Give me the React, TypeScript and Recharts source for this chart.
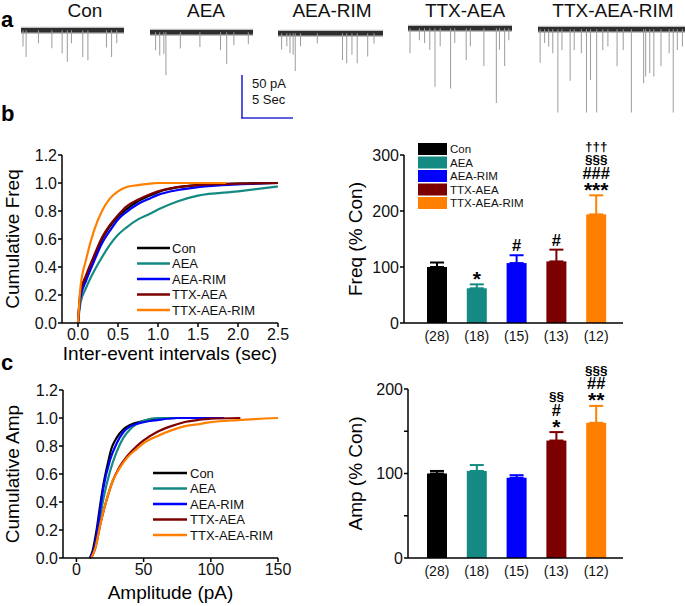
import React from 'react';
import { LineChart, Line, XAxis, YAxis, BarChart, Bar, ErrorBar, ReferenceArea, Label } from 'recharts';

const FONT = '"Liberation Sans", Arial, Helvetica, sans-serif';

// ---------- shared groups ----------
const groups = ['Con', 'AEA', 'AEA-RIM', 'TTX-AEA', 'TTX-AEA-RIM'];
const colors = ['#000000', '#148a82', '#0000ff', '#7d0000', '#ff8000'];
const cellCounts = ['(28)', '(18)', '(15)', '(13)', '(12)'];

// ---------- panel a: spike trains [time (s), amplitude (pA)] ----------
const spikesCon = [[0.2, 19], [0.5, 31], [1.7, 15], [3.0, 21], [4.0, 27], [4.5, 37], [4.9, 15], [6.0, 31], [6.5, 35], [8.3, 20], [8.8, 31], [9.3, 15]];
const spikesAEA = [[0.5, 21], [0.9, 27], [1.3, 25], [1.5, 50], [2.9, 19], [4.8, 17], [6.8, 21], [7.4, 37], [8.1, 15], [9.5, 14]];
const spikesAEARIM = [[0.3, 19], [0.8, 15], [1.1, 23], [1.4, 25], [1.6, 44], [2.1, 15], [3.7, 12], [6.1, 31], [6.5, 35], [7.0, 25], [7.5, 35], [8.5, 27], [9.1, 12]];
const spikesTTXAEA = [[0.2, 29], [1.1, 14], [1.6, 17], [2.1, 25], [2.6, 68], [3.1, 21], [4.1, 70], [4.5, 17], [5.6, 37], [6.0, 21], [7.3, 44], [8.5, 87], [8.8, 25], [9.3, 44], [9.7, 14]];
const spikesTTXAEARIM = [[0.16, 39], [0.6, 16], [1.0, 20], [1.4, 28], [1.9, 97], [2.3, 24], [3.1, 60], [3.5, 24], [4.2, 28], [4.7, 97], [5.1, 59], [5.7, 97], [6.3, 24], [6.8, 20], [7.7, 43], [8.3, 24], [9.1, 97], [10.3, 63], [10.5, 55], [10.9, 51], [11.3, 55], [12.0, 43], [12.8, 28], [13.2, 97], [13.6, 24], [14.1, 20]];
const traceSpikes = [spikesCon, spikesAEA, spikesAEARIM, spikesTTXAEA, spikesTTXAEARIM];
const traceDurations = [10, 10, 10, 10, 14.4];

// ---------- panel b: inter-event interval CDFs [sec, cumulative] ----------
const freqCon = [[0, 0], [0.03, 0.2], [0.1, 0.32], [0.2, 0.46], [0.3, 0.6], [0.4, 0.69], [0.5, 0.76], [0.6, 0.81], [0.75, 0.87], [0.9, 0.91], [1.0, 0.935], [1.25, 0.97], [1.5, 0.985], [2.0, 0.995], [2.5, 1.0]];
const freqAEA = [[0, 0], [0.03, 0.14], [0.1, 0.25], [0.2, 0.37], [0.3, 0.47], [0.4, 0.56], [0.5, 0.63], [0.6, 0.68], [0.75, 0.74], [0.9, 0.78], [1.0, 0.81], [1.25, 0.87], [1.5, 0.91], [2.0, 0.94], [2.5, 0.975]];
const freqAEARIM = [[0, 0], [0.03, 0.18], [0.1, 0.3], [0.2, 0.44], [0.3, 0.57], [0.4, 0.66], [0.5, 0.74], [0.6, 0.79], [0.75, 0.85], [0.9, 0.89], [1.0, 0.915], [1.25, 0.95], [1.5, 0.97], [2.0, 0.99], [2.5, 1.0]];
const freqTTXAEA = [[0, 0], [0.03, 0.22], [0.1, 0.34], [0.2, 0.48], [0.3, 0.61], [0.4, 0.7], [0.5, 0.77], [0.6, 0.83], [0.75, 0.88], [0.9, 0.92], [1.0, 0.94], [1.25, 0.97], [1.5, 0.985], [2.0, 0.995], [2.5, 1.0]];
const freqTTXAEARIM = [[0, 0], [0.03, 0.25], [0.1, 0.45], [0.2, 0.66], [0.3, 0.8], [0.4, 0.89], [0.5, 0.94], [0.6, 0.97], [0.75, 0.985], [0.9, 0.995], [1.0, 1.0], [1.85, 1.0]];
const freqCdfs = [freqCon, freqAEA, freqAEARIM, freqTTXAEA, freqTTXAEARIM];
const freqXTicks = [0, 0.5, 1, 1.5, 2, 2.5];
const cdfYTicks = [0, 0.2, 0.4, 0.6, 0.8, 1.0, 1.2];

// ---------- panel c: amplitude CDFs [pA, cumulative] ----------
const ampCon = [[10, 0], [12, 0.05], [15, 0.2], [18, 0.4], [20, 0.52], [23, 0.66], [26, 0.78], [30, 0.86], [35, 0.92], [40, 0.95], [50, 0.98], [60, 0.995], [75, 1.0]];
const ampAEA = [[10, 0], [13, 0.05], [16, 0.2], [20, 0.42], [25, 0.62], [30, 0.76], [35, 0.86], [40, 0.92], [50, 0.98], [60, 1.0], [90, 1.0]];
const ampAEARIM = [[10, 0], [14, 0.1], [17, 0.3], [20, 0.5], [25, 0.7], [30, 0.82], [35, 0.9], [40, 0.94], [50, 0.97], [60, 0.985], [75, 1.0], [110, 1.0]];
const ampTTXAEA = [[11, 0], [14, 0.07], [18, 0.25], [22, 0.4], [27, 0.55], [32, 0.65], [38, 0.73], [45, 0.8], [50, 0.84], [60, 0.9], [70, 0.94], [80, 0.97], [90, 0.985], [100, 0.995], [122, 1.0]];
const ampTTXAEARIM = [[11, 0], [14, 0.07], [18, 0.25], [22, 0.4], [27, 0.55], [32, 0.64], [38, 0.72], [45, 0.78], [50, 0.82], [60, 0.87], [70, 0.91], [80, 0.94], [90, 0.955], [100, 0.97], [120, 0.985], [150, 1.0]];
const ampCdfs = [ampCon, ampAEA, ampAEARIM, ampTTXAEA, ampTTXAEARIM];
const ampXTicks = [0, 50, 100, 150];

// ---------- bar summaries ----------
const freqMean = [100, 62, 107, 110, 194];
const freqErr = [8, 7, 14, 21, 34];
const freqSig = [[], ['*'], ['#'], ['#'], ['†††', '§§§', '###', '***']];
const freqTicks = [0, 100, 200, 300];

const ampMean = [100, 103, 95, 139, 160];
const ampErr = [3, 7, 3, 10, 20];
const ampSig = [[], [], [], ['§§', '#', '*'], ['§§§', '##', '**']];
const ampTicks = [0, 50, 100, 150, 200];

// ---------- styling helpers ----------
const axisLine = { stroke: '#000', strokeWidth: 1.5 };
const tickStyle = { fill: '#111', fontSize: 16, fontFamily: FONT };

function sigStyle(r: string) {
  if (r.includes('*')) return { fs: 21, dy: 11.5 };
  if (r.includes('#')) return { fs: 16.5, dy: 6 };
  return { fs: 13.5, dy: 3.6 };
}

function Trace({ spikes, duration, left, width, base }: any) {
  const data = spikes.map(([t, a]: number[]) => ({ t, a: -a }));
  return (
    <div style={{ position: 'absolute', left, top: base - 4.3 }}>
      <BarChart width={width} height={103} data={data} margin={{ top: 0, right: 0, bottom: 0, left: 0 }} barSize={1}>
        <XAxis type="number" dataKey="t" domain={[0, duration]} hide />
        <YAxis type="number" domain={[-115, 5]} hide />
        <ReferenceArea y1={-4.2} y2={4.2} fill="#8a8a8a" fillOpacity={0.55} stroke="none" ifOverflow="visible" />
        <ReferenceArea y1={-2.6} y2={2.6} fill="#2e2e2e" fillOpacity={1} stroke="none" ifOverflow="visible" />
        <Bar dataKey="a" fill="#9c9c9c" isAnimationActive={false} />
      </BarChart>
    </div>
  );
}

function CdfChart({ cdfs, left, top, width, height, margin, yWidth, xHeight, xOffset, xDomain, xTicks, xFmt, xLabel, yLabel }: any) {
  return (
    <div style={{ position: 'absolute', left, top }}>
      <LineChart width={width} height={height} margin={margin}>
        <XAxis type="number" dataKey="x" domain={xDomain} ticks={xTicks} tickFormatter={xFmt} allowDataOverflow
          height={xHeight} tickSize={4} tickMargin={2} axisLine={axisLine} tickLine={axisLine} tick={tickStyle}>
          <Label value={xLabel} position="insideBottom" offset={xOffset} style={{ fontSize: 19, fill: '#000', fontFamily: FONT }} />
        </XAxis>
        <YAxis type="number" domain={[0, 1.2]} ticks={cdfYTicks} tickFormatter={(v: number) => v.toFixed(1)}
          width={yWidth} tickSize={4} tickMargin={1} axisLine={axisLine} tickLine={axisLine} tick={tickStyle}>
          <Label value={yLabel} angle={-90} position="insideLeft" offset={12} style={{ textAnchor: 'middle', fontSize: 19, fill: '#000', fontFamily: FONT }} />
        </YAxis>
        {cdfs.map((pts: number[][], i: number) => (
          <Line key={groups[i]} data={pts.map(([x, y]) => ({ x, y }))} dataKey="y" type="monotone" stroke={colors[i]}
            strokeWidth={2.2} dot={false} isAnimationActive={false} />
        ))}
      </LineChart>
    </div>
  );
}

function BarPanel({ means, errs, sig, yMax, yTicks, yFmt, yLabel, left, top, height, marginTop, yWidth, padLeft }: any) {
  const data = groups.map((g, i) => {
    const row: any = { label: cellCounts[i], err: errs[i], sig: sig[i] };
    row[g] = means[i];
    row[g + 'Err'] = [0, errs[i]];
    return row;
  });
  const shape = (g: string) => (p: any) => {
    const { x, y, width, height: h, fill, payload } = p;
    if (payload == null || payload[g] == null || !h) return <g />;
    const unit = h / payload[g];
    const capY = y - payload.err * unit;
    const rows: string[] = payload.sig;
    return (
      <g>
        <rect x={x} y={y} width={width} height={h} fill={fill} />
        {rows.map((r, k) => {
          const st = sigStyle(r);
          const cy = capY - 10 - (rows.length - 1 - k) * 12.5;
          return (
            <text key={k} x={x + width / 2} y={cy + st.dy} textAnchor="middle" fontSize={st.fs} fontWeight="bold" fill="#000" fontFamily={FONT}>{r}</text>
          );
        })}
      </g>
    );
  };
  return (
    <div style={{ position: 'absolute', left, top }}>
      <BarChart width={293} height={height} data={data} margin={{ top: marginTop, right: 10, left: 0, bottom: 0 }} barSize={20}>
        <XAxis dataKey="label" tickLine={false} tickSize={6} tickMargin={2} padding={{ left: padLeft, right: 7 }} interval={0}
          axisLine={axisLine} tick={{ fill: '#111', fontSize: 14, fontFamily: FONT }} height={30} />
        <YAxis type="number" domain={[0, yMax]} ticks={yTicks} tickFormatter={yFmt} width={yWidth} tickSize={4} tickMargin={1}
          axisLine={axisLine} tickLine={axisLine} tick={tickStyle}>
          <Label value={yLabel} angle={-90} position="insideLeft" offset={15} style={{ textAnchor: 'middle', fontSize: 19, fill: '#000', fontFamily: FONT }} />
        </YAxis>
        {groups.map((g, i) => (
          <Bar key={g} dataKey={g} stackId="s" fill={colors[i]} shape={shape(g)} isAnimationActive={false}>
            <ErrorBar dataKey={g + 'Err'} direction="y" width={7} strokeWidth={2} stroke={colors[i]} />
          </Bar>
        ))}
      </BarChart>
    </div>
  );
}

const traceBoxes = [
  { left: 21, width: 103, base: 30, label: 85 },
  { left: 150, width: 103, base: 32, label: 206 },
  { left: 278, width: 105, base: 33, label: 332 },
  { left: 408, width: 104, base: 28, label: 465 },
  { left: 538, width: 147, base: 29, label: 613 },
];

export default function App() {
  return (
    <div style={{ position: 'absolute', left: 0, top: 0, width: 685, height: 606, background: '#fff', fontFamily: FONT, overflow: 'hidden' }}>
      {traceSpikes.map((sp, i) => (
        <Trace key={groups[i]} spikes={sp} duration={traceDurations[i]} left={traceBoxes[i].left} width={traceBoxes[i].width} base={traceBoxes[i].base} />
      ))}

      <CdfChart cdfs={freqCdfs} left={0} top={130} width={300} height={240} margin={{ top: 25, right: 22, left: 0, bottom: 0 }}
        yWidth={62} xHeight={47} xOffset={10} xDomain={[-0.2, 2.5]} xTicks={freqXTicks} xFmt={(v: number) => v.toFixed(1)}
        xLabel="Inter-event intervals (sec)" yLabel="Cumulative Freq" />
      <CdfChart cdfs={ampCdfs} left={0} top={360} width={300} height={246} margin={{ top: 30, right: 22, left: 0, bottom: 0 }}
        yWidth={63} xHeight={48} xOffset={7} xDomain={[-10, 150]} xTicks={ampXTicks} xFmt={(v: number) => String(v)}
        xLabel="Amplitude (pA)" yLabel="Cumulative Amp" />

      <BarPanel means={freqMean} errs={freqErr} sig={freqSig} yMax={300} yTicks={freqTicks} yFmt={(v: number) => String(v)}
        yLabel="Freq (% Con)" left={340} top={130} height={223} marginTop={25} yWidth={64} padLeft={13} />
      <BarPanel means={ampMean} errs={ampErr} sig={ampSig} yMax={200} yTicks={ampTicks} yFmt={(v: number) => (v % 100 === 0 ? String(v) : '')}
        yLabel="Amp (% Con)" left={340} top={360} height={228} marginTop={29} yWidth={68} padLeft={9} />

      <svg width={685} height={606} style={{ position: 'absolute', left: 0, top: 0, pointerEvents: 'none' }} fontFamily={FONT}>
        <text x={1} y={27} fontSize={22} fontWeight="bold">a</text>
        <text x={1} y={121} fontSize={22} fontWeight="bold">b</text>
        <text x={1} y={370} fontSize={22} fontWeight="bold">c</text>
        {groups.map((g, i) => (
          <text key={g} x={traceBoxes[i].label} y={16.5} fontSize={19} textAnchor="middle" fill="#111">{g}</text>
        ))}
        <line x1={242} y1={75} x2={242} y2={118.5} stroke="#2a2ad6" strokeWidth={1.6} />
        <line x1={241.2} y1={118} x2={293} y2={118} stroke="#2a2ad6" strokeWidth={1.6} />
        <text x={252} y={88} fontSize={13} fill="#111">50 pA</text>
        <text x={252} y={104} fontSize={13} fill="#111">5 Sec</text>

        {groups.map((g, i) => (
          <g key={'lb' + g}>
            <line x1={137} x2={170} y1={248 + i * 15.5} y2={248 + i * 15.5} stroke={colors[i]} strokeWidth={2.6} />
            <text x={172} y={248 + i * 15.5 + 4.5} fontSize={13} fill="#111">{g}</text>
          </g>
        ))}
        {groups.map((g, i) => (
          <g key={'lc' + g}>
            <line x1={153} x2={187} y1={473 + i * 15.5} y2={473 + i * 15.5} stroke={colors[i]} strokeWidth={2.6} />
            <text x={190} y={473 + i * 15.5 + 4.5} fontSize={13} fill="#111">{g}</text>
          </g>
        ))}
        {groups.map((g, i) => (
          <g key={'lr' + g}>
            <rect x={418} y={143 + i * 13.5} width={29} height={12} fill={colors[i]} />
            <text x={450} y={143 + i * 13.5 + 10} fontSize={11.5} fill="#111">{g}</text>
          </g>
        ))}
      </svg>
    </div>
  );
}
